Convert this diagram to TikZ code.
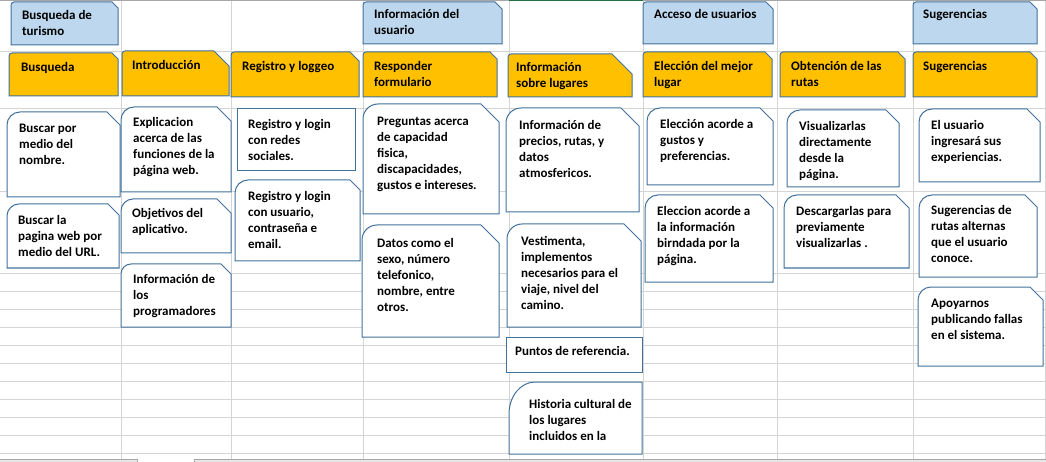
\documentclass[tikz,border=0pt]{standalone}
\usepackage{fontspec}
\setmainfont{Carlito}
\definecolor{gridc}{HTML}{D4D4D4}
\definecolor{edge}{HTML}{41719C}
\definecolor{hblue}{HTML}{BDD7EE}
\definecolor{horange}{HTML}{FFC000}
\definecolor{tabfill}{HTML}{E6E6E6}
\definecolor{tabedge}{HTML}{A6A6A6}
\definecolor{selgreen}{HTML}{217346}
\newcommand\shp[7]{%
  \draw[#1] (#2,-#5) -- (#2,{-#3-#6}) arc[start angle=180,end angle=90,radius=#6pt] -- ({#4-#7},-#3) -- (#4,{-#3-#7}) -- (#4,-#5) -- cycle;}
\newcommand\tx[4]{\node[txt] (#1) at (#2,{11.2-#3}) {\strut #4};}
\begin{document}
\begin{tikzpicture}[x=1pt,y=1pt,
  gridline/.style={draw=gridc,line width=1pt},
  hb/.style={draw=edge,fill=hblue,line width=1pt},
  ho/.style={draw=edge,fill=horange,line width=1pt},
  wb/.style={draw=edge,fill=white,line width=1pt},
  tabbox/.style={draw=tabedge,fill=tabfill,line width=1pt},
  txt/.style={anchor=north west,inner sep=0pt,align=left,font=\fontsize{13}{16}\selectfont\bfseries,text=black}]
\useasboundingbox (0,0) rectangle (1046,-462);
% grid
\foreach \y in {52,109,192} \draw[gridline] (0,-\y) -- (1046,-\y);
\foreach \y in {273,291,...,453} \draw[gridline] (0,-\y) -- (1046,-\y);
\foreach \x in {121,231,363,509,643,777,913,1045.5} \draw[gridline] (\x,0) -- (\x,-459);
\draw[draw=tabedge,line width=1.5pt] (0,-0.75) -- (1046,-0.75);
\draw[draw=selgreen,line width=1.5pt] (509,-0.75) -- (643,-0.75);
% sheet tabs
\draw[tabbox] (-1,-459) rectangle (137,-465);
\draw[tabbox] (194,-459) rectangle (1047,-465);
% blue headers
\shp{hb}{11}{2}{118}{45}{3}{6}
\shp{hb}{363}{2}{502}{44}{3}{7}
\shp{hb}{643}{2}{773}{44}{3}{7}
\shp{hb}{913}{2}{1037}{44}{3}{7}
% orange headers
\shp{ho}{9}{53}{118}{96}{3}{6}
\shp{ho}{122}{51}{229}{96}{3}{15}
\shp{ho}{231}{52}{359}{97}{3}{9}
\shp{ho}{363}{52}{497}{97}{3}{7}
\shp{ho}{508}{54}{632}{97}{3}{20}
\shp{ho}{643}{52}{772}{97}{3}{7}
\shp{ho}{780}{52}{905}{97}{3}{7}
\shp{ho}{913}{52}{1037}{97}{3}{7}
% white boxes
\shp{wb}{7}{112}{120}{197}{13}{13}
\shp{wb}{7}{204}{119}{268}{12}{11}
\shp{wb}{121}{107}{231}{192}{13}{14}
\shp{wb}{121}{199}{231}{253}{12}{14}
\shp{wb}{121}{264}{231}{327}{10}{10}
\draw[wb] (237,-109) rectangle (355,-171);
\shp{wb}{235}{180}{360}{261}{13}{10}
\shp{wb}{363}{104}{499}{214}{15}{18}
\shp{wb}{362}{225}{499}{337}{15}{18}
\shp{wb}{506}{108}{639}{212}{15}{18}
\shp{wb}{507}{224}{641}{327}{15}{17}
\draw[wb] (506,-337) rectangle (642,-372);
\draw[wb] (509,-454) -- (509,-414) arc[start angle=180,end angle=90,x radius=26pt,y radius=32pt] -- (642,-382) -- (642,-454) -- cycle;
\shp{wb}{647}{108}{773}{185}{13}{13}
\shp{wb}{645}{195}{773}{282}{13}{13}
\shp{wb}{787}{110}{899}{187}{13}{13}
\shp{wb}{784}{195}{909}{268}{13}{13}
\shp{wb}{919}{109}{1040}{182}{13}{13}
\shp{wb}{919}{195}{1037}{277}{13}{12}
\shp{wb}{918}{287}{1043}{366}{13}{13}
% header texts
\tx{h1}{22}{19}{Busqueda de\\turismo}
\tx{h2}{374}{18}{Información del\\usuario}
\tx{h3}{654}{18}{Acceso de usuarios}
\tx{h4}{923}{18}{Sugerencias}
\tx{o1}{21}{71}{Busqueda}
\tx{o2}{132}{69}{Introducción}
\tx{o3}{242}{70}{Registro y loggeo}
\tx{o4}{374}{70}{Responder\\formulario}
\tx{o5}{516}{71}{Información\\sobre lugares}
\tx{o6}{654}{70}{Elección del mejor\\lugar}
\tx{o7}{791}{70}{Obtención de las\\rutas}
\tx{o8}{923}{70}{Sugerencias}
% box texts
\tx{a}{19}{132}{Buscar por\\medio del\\nombre.}
\tx{b}{18}{224}{Buscar la\\pagina web por\\medio del URL.}
\tx{c}{133}{126}{Explicacion\\acerca de las\\funciones de la\\página web.}
\tx{d}{132}{217}{Objetivos del\\aplicativo.}
\tx{e}{133}{283}{Información de\\los\\programadores}
\tx{f}{248}{128}{Registro y login\\con redes\\sociales.}
\tx{g}{248}{200}{Registro y login\\con usuario,\\contraseña e\\email.}
\tx{hh}{377}{125}{Preguntas acerca\\de capacidad\\fisica,\\discapacidades,\\gustos e intereses.}
\tx{i}{377}{247}{Datos como el\\sexo, número\\telefonico,\\nombre, entre\\otros.}
\tx{j}{519}{129}{Información de\\precios, rutas, y\\datos\\atmosfericos.}
\tx{k}{521}{245}{Vestimenta,\\implementos\\necesarios para el\\viaje, nivel del\\camino.}
\tx{l}{515}{355}{Puntos de referencia.}
\tx{m}{529}{408}{Historia cultural de\\los lugares\\incluidos en la}
\tx{n}{660}{128}{Elección acorde a\\gustos y\\preferencias.}
\tx{oo}{657}{215}{Eleccion acorde a\\la información\\birndada por la\\página.}
\tx{p}{799}{130}{Visualizarlas\\directamente\\desde la\\página.}
\tx{q}{796}{215}{Descargarlas para\\previamente\\visualizarlas .}
\tx{r}{931}{129}{El usuario\\ingresará sus\\experiencias.}
\tx{s}{931}{214}{Sugerencias de\\rutas alternas\\que el usuario\\conoce.}
\tx{t}{931}{307}{Apoyarnos\\publicando fallas\\en el sistema.}
\end{tikzpicture}
\end{document}
